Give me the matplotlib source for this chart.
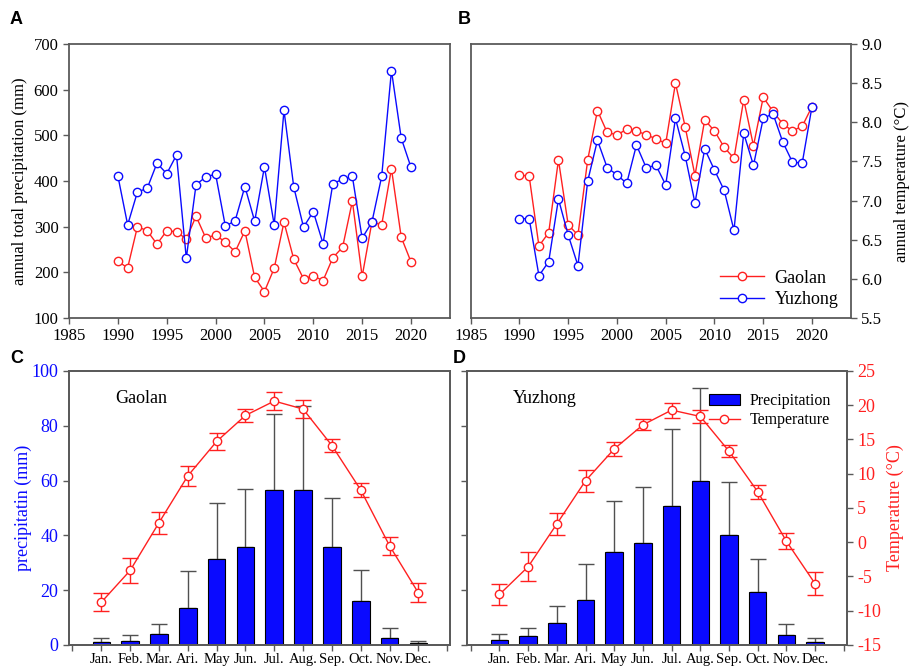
import matplotlib
matplotlib.use('Agg')
import matplotlib.pyplot as plt
from matplotlib.lines import Line2D
import numpy as np

plt.rcParams['font.family'] = ['Liberation Serif', 'DejaVu Serif']
plt.rcParams['font.size'] = 12
plt.rcParams['axes.unicode_minus'] = False

years = np.arange(1990, 2021)

# annual precipitation (mm)
prec_gaolan = [224, 210, 300, 291, 262, 291, 289, 273, 323, 275, 282, 266, 245, 291, 189, 158,
               209, 310, 229, 186, 192, 182, 232, 255, 356, 191, 310, 304, 427, 277, 223]
prec_yuzhong = [411, 304, 376, 384, 439, 416, 457, 231, 392, 409, 415, 301, 313, 388, 312, 431,
                304, 555, 387, 299, 333, 263, 394, 404, 410, 275, 310, 410, 642, 494, 430]

# annual temperature (°C)
temp_gaolan = [7.33, 7.31, 6.42, 6.59, 7.52, 6.69, 6.56, 7.52, 8.15, 7.87, 7.84, 7.91, 7.89, 7.84,
               7.79, 7.73, 8.50, 7.94, 7.32, 8.03, 7.89, 7.68, 7.54, 8.29, 7.70, 8.32, 8.14, 7.98,
               7.89, 7.95, 8.20]
temp_yuzhong = [6.77, 6.77, 6.04, 6.22, 7.02, 6.56, 6.17, 7.25, 7.77, 7.42, 7.33, 7.22, 7.71, 7.42,
                7.45, 7.20, 8.05, 7.57, 6.97, 7.66, 7.39, 7.13, 6.62, 7.86, 7.45, 8.05, 8.11, 7.75,
                7.49, 7.48, 8.20]

months = ['Jan.', 'Feb.', 'Mar.', 'Ari.', 'May', 'Jun.', 'Jul.', 'Aug.', 'Sep.', 'Oct.', 'Nov.', 'Dec.']

# monthly means, Gaolan
mp_gaolan = [1.1, 1.6, 4.0, 13.6, 31.2, 35.6, 56.4, 56.4, 35.6, 16.2, 2.4, 0.6]
mp_gaolan_top = [2.7, 3.8, 7.8, 26.9, 51.8, 56.8, 84.2, 87.3, 53.5, 27.5, 6.2, 1.5]
mt_gaolan = [-8.76, -4.12, 2.85, 9.68, 14.71, 18.51, 20.61, 19.44, 14.12, 7.63, -0.51, -7.39]
mt_gaolan_err = [1.3, 1.8, 1.6, 1.5, 1.3, 1.0, 1.3, 1.3, 0.9, 1.0, 1.3, 1.4]

# monthly means, Yuzhong
mp_yuzhong = [1.9, 3.2, 8.2, 16.4, 33.9, 37.1, 50.9, 60.0, 40.1, 19.4, 3.7, 1.2]
mp_yuzhong_top = [3.9, 6.2, 14.3, 29.7, 52.7, 57.5, 79.0, 93.7, 59.4, 31.4, 7.8, 2.7]
mt_yuzhong = [-7.62, -3.57, 2.68, 8.98, 13.62, 17.14, 19.29, 18.36, 13.28, 7.37, 0.14, -6.06]
mt_yuzhong_err = [1.5, 2.1, 1.6, 1.6, 1.0, 0.8, 1.1, 1.0, 0.9, 1.0, 1.2, 1.65]

SPINE = '#5a5a5a'
RED = '#ff2020'
BLUE = '#0a0aff'

fig = plt.figure(figsize=(9.12, 6.67), dpi=100)


def style_axes(ax):
    for s in ax.spines.values():
        s.set_color(SPINE)
        s.set_linewidth(1.3)
    ax.tick_params(direction='out', length=4, width=1, color=SPINE)


mk = dict(marker='o', markersize=6, markerfacecolor='white', lw=1, markeredgewidth=1)

# ---- A
axA = fig.add_axes([0.0757, 0.5232, 0.4178, 0.4108])
axA.plot(years, prec_gaolan, color=RED, markeredgecolor=RED, **mk)
axA.plot(years, prec_yuzhong, color=BLUE, markeredgecolor=BLUE, **mk)
axA.set_xlim(1985, 2024)
axA.set_ylim(100, 700)
axA.set_xticks(range(1985, 2025, 5))
axA.set_yticks(range(100, 701, 100))
axA.set_ylabel('annual total precipitation (mm)')
style_axes(axA)

# ---- B
axB = fig.add_axes([0.5161, 0.5232, 0.417, 0.4108])
axB.plot(years, temp_gaolan, color=RED, markeredgecolor=RED, label='Gaolan', **mk)
axB.plot(years, temp_yuzhong, color=BLUE, markeredgecolor=BLUE, label='Yuzhong', **mk)
axB.set_xlim(1985, 2024)
axB.set_ylim(5.5, 9.0)
axB.set_xticks(range(1985, 2025, 5))
axB.set_yticks(np.arange(5.5, 9.01, 0.5))
axB.yaxis.tick_right()
axB.yaxis.set_label_position('right')
axB.set_ylabel('annual temperature (°C)', labelpad=8)
axB.yaxis.set_major_formatter(matplotlib.ticker.FormatStrFormatter('%.1f'))
axB.legend(loc='lower right', bbox_to_anchor=(1.0, -0.01), frameon=False,
           handlelength=2.4, handletextpad=0.6, fontsize=13, borderaxespad=0.3,
           labelspacing=0.25)
style_axes(axB)

# ---- C and D
xm = np.arange(1, 13)


def month_panel(rect, prec, prec_top, temp, temp_err, name, left_labels, right_labels):
    ax = fig.add_axes(rect)
    err_up = np.array(prec_top) - np.array(prec)
    ax.bar(xm, prec, width=0.61, color=BLUE, edgecolor='black', linewidth=0.8,
           label='Precipitation', zorder=2)
    ax.errorbar(xm, prec, yerr=[np.zeros(12), err_up], fmt='none', ecolor='#505050',
                elinewidth=1, capsize=5.5, capthick=1, zorder=1)
    ax.set_xlim(-0.12, 13.1)
    ax.set_ylim(0, 100)
    ax.set_xticks(range(0, 14))
    ax.set_xticklabels([''] + months + [''], fontsize=10.5)
    ax.tick_params(axis='x', pad=2)
    style_axes(ax)
    if left_labels:
        ax.set_yticks(range(0, 101, 20))
        ax.tick_params(axis='y', labelcolor=BLUE, labelsize=13)
        ax.set_ylabel('precipitatin (mm)', color=BLUE, fontsize=13, labelpad=0)
    else:
        ax.tick_params(axis='y', left=False, labelleft=False)
    ax.text(0.12, 0.9, name, transform=ax.transAxes, fontsize=13, ha='left', va='center')
    ax2 = ax.twinx()
    ax2.errorbar(xm, temp, yerr=temp_err, color=RED, ecolor=RED, elinewidth=1, capsize=5.5,
                 capthick=1, markeredgecolor=RED, **mk)
    ax2.set_ylim(-15, 25)
    style_axes(ax2)
    if right_labels:
        ax2.set_yticks(range(-15, 26, 5))
        ax2.tick_params(axis='y', labelcolor=RED, labelsize=13)
        ax2.set_ylabel('Temperature (°C)', color=RED, fontsize=13, labelpad=4)
        h1, l1 = ax.get_legend_handles_labels()
        temp_handle = Line2D([], [], color=RED, markeredgecolor=RED, **mk)
        ax2.legend(h1 + [temp_handle], l1 + ['Temperature'], loc='upper right',
                   bbox_to_anchor=(0.985, 0.955), frameon=False, handlelength=2.0,
                   handletextpad=0.6, fontsize=11.5, borderaxespad=0.2, labelspacing=0.2)
    else:
        ax2.tick_params(axis='y', right=False, labelright=False)
    return ax


axC = month_panel([0.0757, 0.033, 0.4178, 0.4108], mp_gaolan, mp_gaolan_top, mt_gaolan,
                  mt_gaolan_err, 'Gaolan', True, False)
axD = month_panel([0.5124, 0.033, 0.416, 0.4108], mp_yuzhong, mp_yuzhong_top, mt_yuzhong,
                  mt_yuzhong_err, 'Yuzhong', False, True)

# panel letters
for lab, x, y in [('A', 10, 20), ('B', 458, 20), ('C', 10, 358), ('D', 453, 358)]:
    fig.text(x / 912, 1 - y / 667, lab, fontsize=13, fontweight='bold',
             family='Liberation Sans', ha='left', va='center')

fig.savefig('out.png', dpi=100)
